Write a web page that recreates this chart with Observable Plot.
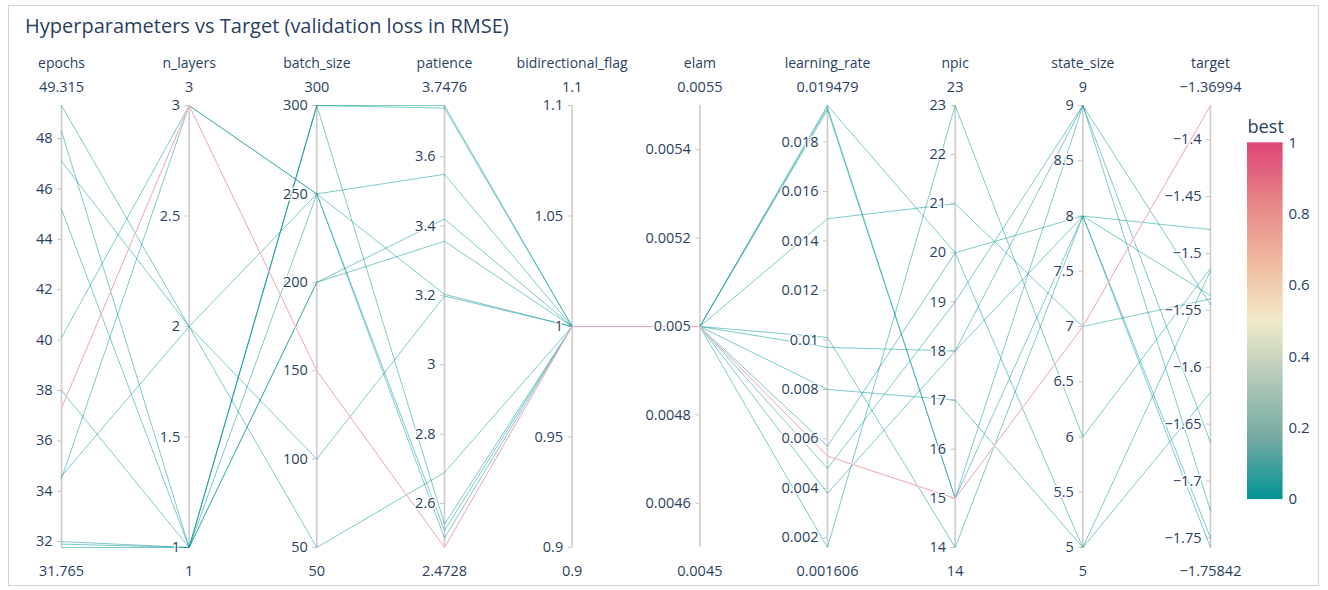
<!DOCTYPE html>
<html><head><meta charset="utf-8">
<script src="https://cdn.jsdelivr.net/npm/d3@7"></script>
<script src="https://cdn.jsdelivr.net/npm/@observablehq/plot@0.6"></script>
<style>
body{margin:0;background:#fff;font-family:"Open Sans",sans-serif;}
#wrap{position:relative;width:1328px;height:590px;overflow:hidden;background:#fff;}
#frame{position:absolute;left:8px;top:5px;width:1311px;height:581px;border:1px solid #d4d4d4;box-sizing:border-box;}
#title{position:absolute;left:25px;top:14px;font-size:20px;color:#2a3f5f;font-family:"Open Sans",sans-serif;white-space:nowrap;line-height:24px;}
#chart{position:absolute;left:0;top:0;}
#cbar{position:absolute;left:1247px;top:115px;}
</style></head>
<body>
<div id="wrap">
  <div id="frame"></div>
  <div id="chart"></div>
  <div id="cbar"></div>
  <div id="title">Hyperparameters vs Target (validation loss in RMSE)</div>
</div>
<script>
// ---- dimensions ----
const dimensions = ["epochs","n_layers","batch_size","patience","bidirectional_flag","elam","learning_rate","npic","state_size","target"];
const rangeMin = [31.765, 1, 50, 2.4728, 0.9, 0.0045, 0.001606, 14, 5, -1.75842];
const rangeMax = [49.315, 3, 300, 3.7476, 1.1, 0.0055, 0.019479, 23, 9, -1.36994];
const rangeMinLabels = ["31.765","1","50","2.4728","0.9","0.0045","0.001606","14","5","\u22121.75842"];
const rangeMaxLabels = ["49.315","3","300","3.7476","1.1","0.0055","0.019479","23","9","\u22121.36994"];

// ---- runs (one value per run) ----
const epochs            = [49.315, 47.1, 34.6, 40.1, 34.5, 37.3, 48.3, 45.2, 38.0, 32.0, 31.765, 31.9];
const nLayers           = [2, 2, 2, 3, 3, 3, 1, 1, 1, 1, 1, 1];
const batchSize         = [50, 100, 250, 250, 250, 150, 300, 300, 200, 200, 250, 300];
const patience          = [2.689, 3.198, 3.203, 3.549, 2.522, 2.4728, 3.7476, 2.54, 3.42, 3.356, 2.50, 3.74];
const bidirectionalFlag = [1, 1, 1, 1, 1, 1, 1, 1, 1, 1, 1, 1];
const elam              = [0.005, 0.005, 0.005, 0.005, 0.005, 0.005, 0.005, 0.005, 0.005, 0.005, 0.005, 0.005];
const learningRate      = [0.019479, 0.0194, 0.0193, 0.0149, 0.0101, 0.0053, 0.0097, 0.0080, 0.0057, 0.0048, 0.0038, 0.001606];
const npic              = [20, 15, 15, 21, 14, 15, 18, 17, 20, 19, 18, 23];
const stateSize         = [8, 9, 8, 7, 8, 7, 8, 5, 5, 9, 9, 6];
const target            = [-1.479, -1.666, -1.75842, -1.540, -1.750, -1.36994, -1.537, -1.622, -1.515, -1.545, -1.726, -1.513];
const best              = [0, 0, 0, 0, 0, 1, 0, 0, 0, 0, 0, 0];

// ---- tick values per axis ----
const epochsTicks   = [32, 34, 36, 38, 40, 42, 44, 46, 48];
const nLayersTicks  = [1, 1.5, 2, 2.5, 3];
const batchTicks    = [50, 100, 150, 200, 250, 300];
const patienceTicks = [2.6, 2.8, 3, 3.2, 3.4, 3.6];
const bidirTicks    = [0.9, 0.95, 1, 1.05, 1.1];
const elamTicks     = [0.0046, 0.0048, 0.005, 0.0052, 0.0054];
const lrTicks       = [0.002, 0.004, 0.006, 0.008, 0.01, 0.012, 0.014, 0.016, 0.018];
const npicTicks     = [14, 15, 16, 17, 18, 19, 20, 21, 22, 23];
const stateTicks    = [5, 5.5, 6, 6.5, 7, 7.5, 8, 8.5, 9];
const targetTicks   = [-1.75, -1.7, -1.65, -1.6, -1.55, -1.5, -1.45, -1.4];
const colorbarTicks = [0, 0.2, 0.4, 0.6, 0.8, 1];

// Tealrose colour scale
const tealroseStops  = [0, 0.1667, 0.3333, 0.5, 0.6667, 0.8333, 1];
const tealroseColors = ["rgb(0,147,146)","rgb(114,170,161)","rgb(177,199,184)","rgb(241,234,200)","rgb(239,185,159)","rgb(230,133,135)","rgb(222,68,118)"];

const columns = [epochs, nLayers, batchSize, patience, bidirectionalFlag, elam, learningRate, npic, stateSize, target];
const ticksAll = [epochsTicks, nLayersTicks, batchTicks, patienceTicks, bidirTicks, elamTicks, lrTicks, npicTicks, stateTicks, targetTicks];
const norm = dimensions.map((d, i) => d3.scaleLinear().domain([rangeMin[i], rangeMax[i]]).range([0, 1]));
const fmt = v => String(+v.toPrecision(6)).replace("-", "\u2212");

const order = d3.range(epochs.length).sort((a, b) => best[a] - best[b]);
const rows = [];
for (const r of order) for (let i = 0; i < dimensions.length; i++)
  rows.push({run: r, dim: i, v: norm[i](columns[i][r]), best: best[r]});
const bestRows = rows.filter(d => d.best === 1);
const otherRows = rows.filter(d => d.best !== 1);

const tickRows = [];
ticksAll.forEach((ts, i) => ts.forEach(t => tickRows.push({dim: i, v: norm[i](t), label: fmt(t)})));
const dimRows = dimensions.map((name, i) => ({dim: i, name, top: rangeMaxLabels[i], bottom: rangeMinLabels[i]}));

const W = 1328, H = 590, X0 = 61, X1 = 1210, Y0 = 105, Y1 = 547;
const pxPerDim = (X1 - X0) / (dimensions.length - 1);
const tickLen = 4 / pxPerDim;
const txtColor = "#2a3f5f";
const font = "'Open Sans', sans-serif";

const colorOpts = {type: "linear", domain: tealroseStops, range: tealroseColors, interpolate: "rgb"};

const chart = Plot.plot({
  width: W, height: H,
  marginLeft: X0, marginRight: W - X1, marginTop: Y0, marginBottom: H - Y1,
  style: {fontFamily: font, background: "transparent", overflow: "visible"},
  x: {domain: [0, dimensions.length - 1], axis: null},
  y: {domain: [0, 1], axis: null},
  color: colorOpts,
  marks: [
    Plot.ruleX(dimRows, {x: "dim", y1: 0, y2: 1, stroke: "#cdcdcd", strokeWidth: 1.6}),
    Plot.ruleY(tickRows, {x1: d => d.dim - tickLen, x2: "dim", y: "v", stroke: "#c4c4c4", strokeWidth: 1}),
    Plot.line(otherRows, {x: "dim", y: "v", z: "run", stroke: "best", strokeWidth: 1, strokeOpacity: 0.5}),
    Plot.line(bestRows, {x: "dim", y: "v", z: "run", stroke: "white", strokeWidth: 1.2, strokeOpacity: 1}),
    Plot.line(bestRows, {x: "dim", y: "v", z: "run", stroke: "best", strokeWidth: 1, strokeOpacity: 0.5}),
    Plot.text(tickRows, {x: "dim", y: "v", text: "label", textAnchor: "end", dx: -9, fontSize: 14.5, fill: txtColor, stroke: "white", strokeWidth: 3, paintOrder: "stroke", strokeOpacity: 0.9}),
    Plot.text(dimRows, {x: "dim", y: 1, text: "name", dy: -42, fontSize: 14, fill: txtColor}),
    Plot.text(dimRows, {x: "dim", y: 1, text: "top", dy: -18, fontSize: 14.5, fill: txtColor}),
    Plot.text(dimRows, {x: "dim", y: 0, text: "bottom", dy: 24, fontSize: 14.5, fill: txtColor})
  ]
});
document.getElementById("chart").append(chart);

// colorbar
const strips = d3.range(0, 1, 0.005);
const cbTop = 30, barH = 537 - 145, barW = 39;
const cbar = Plot.plot({
  width: barW + 50, height: barH + cbTop + 12,
  marginLeft: 0, marginRight: 50, marginTop: cbTop, marginBottom: 12,
  style: {fontFamily: font, background: "transparent", overflow: "visible"},
  x: {domain: [0, 1], axis: null},
  y: {domain: [0, 1]},
  color: colorOpts,
  marks: [
    Plot.rect(strips, {x1: 0, x2: 1, y1: d => d, y2: d => Math.min(1, d + 0.007), fill: d => d + 0.0025}),
    Plot.axisY({anchor: "right", ticks: colorbarTicks, tickSize: 0, tickPadding: 6, tickFormat: d => String(d), fontSize: 16.5, color: txtColor, fill: txtColor}),
    Plot.text(["best"], {x: 0, y: 1, text: d => d, textAnchor: "start", dy: -17, dx: 0, fontSize: 20, fill: txtColor})
  ]
});
document.getElementById("cbar").append(cbar);
</script>
</body></html>
